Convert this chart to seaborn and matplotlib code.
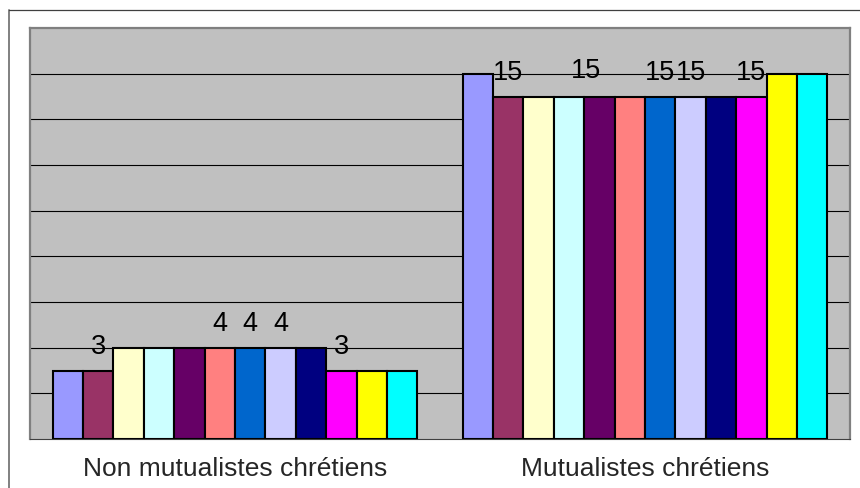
import pandas as pd
import matplotlib
matplotlib.use("Agg")
import matplotlib.pyplot as plt
from matplotlib.lines import Line2D
import seaborn as sns

# two groups, twelve series (Excel default palette)
groupes = ["Non mutualistes chrétiens", "Mutualistes chrétiens"]
series = ["Série " + str(i) for i in range(1, 13)]
non_mutualistes = [3, 3, 4, 4, 4, 4, 4, 4, 4, 3, 3, 3]
mutualistes = [16, 15, 15, 15, 15, 15, 15, 15, 15, 15, 16, 16]
couleurs = ["#9999FF", "#993366", "#FFFFCC", "#CCFFFF", "#660066", "#FF8080",
            "#0066CC", "#CCCCFF", "#000080", "#FF00FF", "#FFFF00", "#00FFFF"]

# which bars carry a value label (series index per group)
etiquettes_non = [1, 5, 6, 7, 9]
etiquettes_mut = [1, 3, 6, 7, 9]


def main():
    rows = []
    for i, s in enumerate(series):
        rows.append({"groupe": groupes[0], "serie": s, "valeur": non_mutualistes[i]})
        rows.append({"groupe": groupes[1], "serie": s, "valeur": mutualistes[i]})
    df = pd.DataFrame(rows)

    sns.set_style("white")
    plt.rcParams["font.family"] = ["Liberation Sans", "DejaVu Sans"]

    fig = plt.figure(figsize=(8.6, 4.89), dpi=100)
    ax = fig.add_axes([30 / 860, 49 / 489, 820 / 860, 411 / 489])
    ax.set_facecolor("#C0C0C0")

    sns.barplot(data=df, x="groupe", y="valeur", hue="serie", order=groupes,
                hue_order=series, palette=couleurs, saturation=1, width=0.89,
                edgecolor="black", linewidth=1.5, legend=False, ax=ax, zorder=3)

    ax.set_ylim(0, 18)
    ax.set_xlim(-0.5, 1.5)
    ax.set_yticks(range(2, 18, 2))
    ax.yaxis.grid(True, color="black", linewidth=0.8, zorder=0)
    ax.set_axisbelow(True)
    ax.tick_params(axis="y", left=False, labelleft=False)
    ax.set_xlabel("")
    ax.set_ylabel("")

    # ticks on category boundaries, labels centred
    ax.set_xticks([-0.5, 0.5, 1.5], minor=True)
    ax.tick_params(axis="x", which="minor", length=6, width=0.8, color="#404040", direction="out")
    ax.tick_params(axis="x", which="major", length=0, pad=12, labelsize=19)

    for side in ["left", "top", "right"]:
        ax.spines[side].set_color("#808080")
        ax.spines[side].set_linewidth(1.6)
    ax.spines["bottom"].set_color("#404040")
    ax.spines["bottom"].set_linewidth(0.8)

    # value labels above selected bars
    for i, cont in enumerate(ax.containers):
        for g, bar in enumerate(cont):
            shown = etiquettes_non if g == 0 else etiquettes_mut
            if i not in shown:
                continue
            dx = 0
            dy = 0
            if g == 1 and i == 3:
                dx, dy = 12, 1
            ax.annotate(str(int(bar.get_height())),
                        (bar.get_x() + bar.get_width() / 2, bar.get_height()),
                        xytext=(dx, 12.8 + dy), textcoords="offset points",
                        ha="center", va="baseline", fontsize=19.5, color="black",
                        zorder=5)

    # outer chart frame (only top and left are visible)
    fig.add_artist(Line2D([9 / 860, 9 / 860], [0, 1 - 11 / 489], color="#808080", linewidth=1.4))
    fig.add_artist(Line2D([9 / 860, 1], [1 - 11 / 489, 1 - 11 / 489], color="#404040", linewidth=0.9))

    fig.savefig("out.png", dpi=100)


if __name__ == "__main__":
    main()
